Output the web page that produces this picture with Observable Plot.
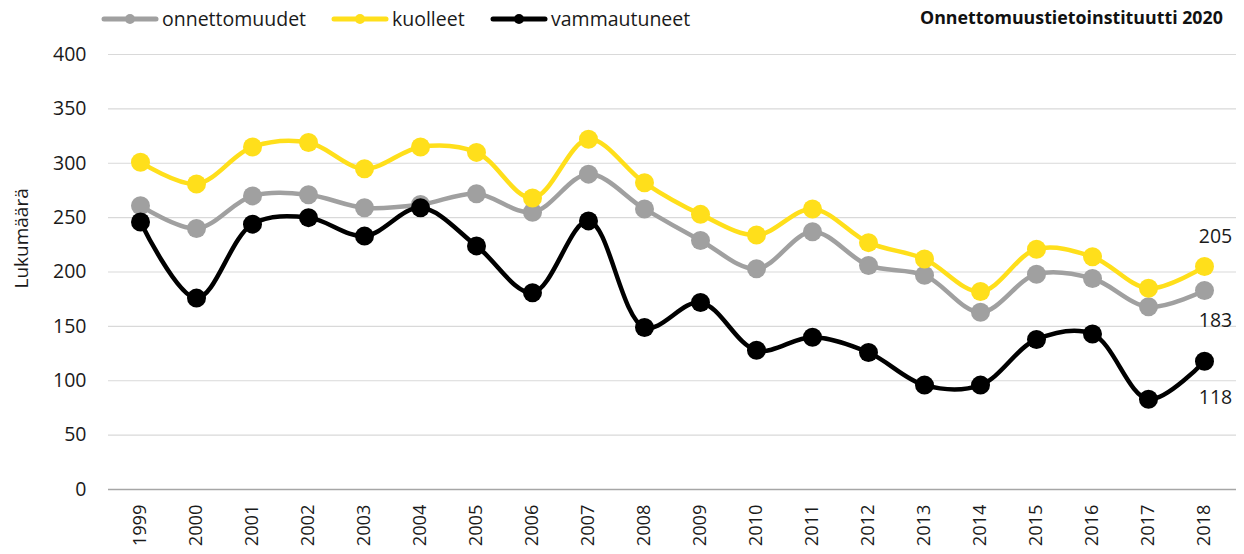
<!DOCTYPE html>
<html>
<head>
<meta charset="utf-8">
<script src="https://cdn.jsdelivr.net/npm/d3@7"></script>
<script src="https://cdn.jsdelivr.net/npm/@observablehq/plot@0.6"></script>
<style>
  body { margin: 0; background: #fff; font-family: "Open Sans", sans-serif; }
  #wrap { position: relative; width: 1244px; height: 554px; }
  #header { position: relative; width: 1244px; height: 40px; }
  .leg { position: absolute; top: 6px; display: flex; align-items: center; font-size: 19.5px; color: #1a1a1a; white-space: nowrap; line-height: 26px; }
  .leg svg { margin-right: 3px; }
  #title { position: absolute; top: 5px; left: 920px; font-size: 17.8px; font-weight: 700; color: #111; white-space: nowrap; }
</style>
</head>
<body>
<div id="wrap">
  <div id="header"></div>
  <div id="chart"></div>
</div>
<script>
const years = ["1999","2000","2001","2002","2003","2004","2005","2006","2007","2008","2009","2010","2011","2012","2013","2014","2015","2016","2017","2018"];
const onnettomuudet = [261, 240, 270, 271, 259, 262, 272, 255, 290, 258, 229, 203, 237, 206, 197, 163, 198, 194, 168, 183];
const kuolleet      = [301, 281, 315, 319, 295, 315, 310, 268, 322, 282, 253, 234, 258, 227, 212, 182, 221, 214, 185, 205];
const vammautuneet  = [246, 176, 244, 250, 233, 259, 224, 181, 247, 149, 172, 128, 140, 126, 96, 96, 138, 143, 83, 118];
const seriesNames = ["onnettomuudet", "kuolleet", "vammautuneet"];
const seriesColors = ["#a0a0a0", "#ffdf1b", "#000000"];
const yTicks = [0, 50, 100, 150, 200, 250, 300, 350, 400];
const titleText = "Onnettomuustietoinstituutti 2020";
const yLabel = "Lukumäärä";

const seriesValues = [onnettomuudet, kuolleet, vammautuneet];
const data = [];
seriesNames.forEach((s, i) => years.forEach((y, j) => data.push({series: s, year: y, value: seriesValues[i][j]})));

const header = document.getElementById("header");
const legX = [101, 331, 490];
seriesNames.forEach((s, i) => {
  const d = document.createElement("div");
  d.className = "leg";
  d.style.left = legX[i] + "px";
  d.innerHTML = `<svg width="58" height="12"><line x1="3" y1="6" x2="55" y2="6" stroke="${seriesColors[i]}" stroke-width="5" stroke-linecap="round"/><circle cx="29" cy="6" r="5" fill="${seriesColors[i]}"/></svg><span>${s}</span>`;
  header.appendChild(d);
});
const t = document.createElement("div");
t.id = "title";
t.textContent = titleText;
header.appendChild(t);

const last = d => d.year === years[years.length - 1];
const color = {domain: seriesNames, range: seriesColors};

const chart = Plot.plot({
  width: 1244,
  height: 514,
  marginTop: 14,
  marginBottom: 65,
  marginLeft: 108,
  marginRight: 8,
  style: {fontFamily: "'Open Sans', sans-serif", fontSize: "19px", color: "#1a1a1a", background: "#fff"},
  x: {type: "point", domain: years, padding: 0.5, label: null},
  y: {domain: [0, 400], ticks: yTicks, label: null},
  color,
  marks: [
    Plot.gridY(yTicks.filter(v => v > 0), {stroke: "#d9d9d9", strokeOpacity: 1, strokeWidth: 1.2}),
    Plot.ruleY([0], {stroke: "#a6a6a6", strokeWidth: 1.5}),
    Plot.axisY({ticks: yTicks, tickSize: 0, tickPadding: 22, fontSize: 19.5}),
    Plot.axisX({tickSize: 0, tickRotate: -90, tickPadding: 15, fontSize: 18.3}),
    Plot.text([yLabel], {frameAnchor: "top-left", dx: -94, dy: 234, rotate: -90, fontSize: 19}),
    Plot.line(data, {x: "year", y: "value", z: "series", stroke: "series", strokeWidth: 4.5, curve: "catmull-rom"}),
    Plot.dot(data, {x: "year", y: "value", fill: "series", r: 9.5}),
    Plot.text(data.filter(d => last(d) && d.series === "kuolleet"), {x: "year", y: "value", text: "value", dx: 11, dy: -30, fontSize: 19.5}),
    Plot.text(data.filter(d => last(d) && d.series === "onnettomuudet"), {x: "year", y: "value", text: "value", dx: 11, dy: 30, fontSize: 19.5}),
    Plot.text(data.filter(d => last(d) && d.series === "vammautuneet"), {x: "year", y: "value", text: "value", dx: 11, dy: 37, fontSize: 19.5})
  ]
});
document.getElementById("chart").appendChild(chart);
</script>
</body>
</html>
